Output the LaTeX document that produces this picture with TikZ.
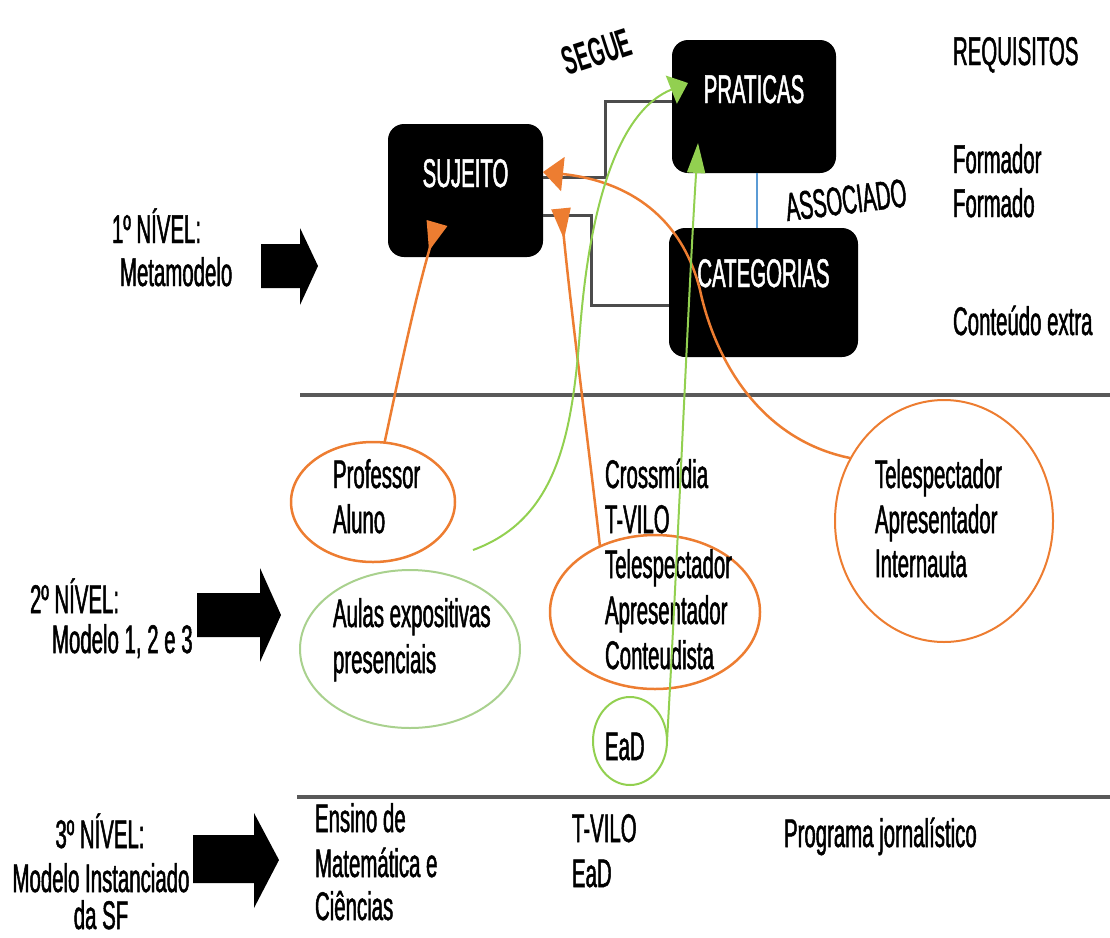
\documentclass[tikz,border=0pt]{standalone}
\usepackage{fontspec}
\setmainfont{Liberation Sans}[FakeStretch=0.51,FakeBold=1.2]
\newfontfamily\seguefont{Liberation Sans Bold}[FakeStretch=0.5]
\usetikzlibrary{arrows.meta,shapes.geometric}
\definecolor{orng}{HTML}{ED7D31}
\definecolor{grn}{HTML}{92D050}
\definecolor{lgrn}{HTML}{A9D18E}
\definecolor{blu}{HTML}{5B9BD5}
\begin{document}
\begin{tikzpicture}[x=1pt,y=-1pt,
  every node/.style={inner sep=0pt,outer sep=0pt,font=\fontsize{40}{45}\selectfont},
  txt/.style={anchor=base west},
  ctxt/.style={anchor=base},
  box/.style={fill=black,rounded corners=16pt,text=white,text height=28pt,text depth=35pt},
  oell/.style={ellipse,draw=orng,line width=2.5pt},
  gell/.style={ellipse,draw=lgrn,line width=2pt},
  gcirc/.style={ellipse,draw=grn,line width=2pt},
  elbow/.style={draw=black!70,line width=3pt},
  assoc/.style={draw=blu,line width=1.5pt},
  sepline/.style={draw=black!65,line width=4pt},
  blockarrow/.style={fill=black},
  oarrow/.style={draw=orng,line width=2.5pt},
  garrow/.style={draw=grn,line width=2pt}
]
\useasboundingbox (0,0) rectangle (1110,937);

% separators
\coordinate (s1a) at (300,395); \coordinate (s1b) at (1110,395);
\coordinate (s2a) at (297,797); \coordinate (s2b) at (1110,797);
\draw[sepline] (s1a) -- (s1b);
\draw[sepline] (s2a) -- (s2b);

% block arrows
\fill[blockarrow] (261,244) -- (300,244) -- (300,228) -- (318,266) -- (300,305) -- (300,288) -- (261,288) -- cycle;
\fill[blockarrow] (197,593) -- (260,593) -- (260,568) -- (281,615) -- (260,662) -- (260,637) -- (197,637) -- cycle;
\fill[blockarrow] (193,835) -- (254,835) -- (254,813) -- (279,860) -- (254,908) -- (254,883) -- (193,883) -- cycle;

% level labels
\node[txt] (n1a) at (112,243) {1º NÍVEL:};
\node[txt] (n1b) at (120,286) {Metamodelo};
\node[txt] (n2a) at (30,613) {2º NÍVEL:};
\node[txt] (n2b) at (52,653) {Modelo 1, 2 e 3};
\node[ctxt] (n3a) at (100,848) {3º NÍVEL:};
\node[ctxt] (n3b) at (101,892) {Modelo Instanciado};
\node[ctxt] (n3c) at (101,929) {da SF};

% boxes
\node[box,minimum width=155pt,minimum height=133pt] (suj) at (465.5,190.5) {SUJEITO};
\node[box,minimum width=164pt,minimum height=133pt] (prat) at (754,106.5) {PRATICAS};
\node[box,minimum width=189pt,minimum height=129pt,text depth=39pt] (cat) at (763.5,292.5) {CATEGORIAS};

% box connectors
\draw[elbow] ([yshift=13.5pt]suj.east) -- ++(62,0) |- ([yshift=5.5pt]prat.west);
\draw[elbow] ([yshift=-24.5pt]suj.east) -- ++(48,0) |- ([yshift=-12.5pt]cat.west);
\draw[assoc] ([xshift=3pt]prat.south) -- ([xshift=3pt]prat.south |- cat.north);

\node[rotate=18,font=\fontsize{40}{45}\seguefont] (segue) at (597,52) {SEGUE};
\node[rotate=7] (assoclbl) at (846,200) {ASSOCIADO};

% requisitos
\node[txt] (req) at (953,65) {REQUISITOS};
\node[txt] (r1) at (953,173) {Formador};
\node[txt] (r2) at (953,217) {Formado};
\node[txt] (r3) at (953,335) {Conteúdo extra};

% level 2
\node[oell,minimum width=164pt,minimum height=120pt] (prof) at (373,502) {};
\node[txt] (t1) at (333,488) {Professor};
\node[txt] (t2) at (333,533) {Aluno};

\node[gell,minimum width=220pt,minimum height=158pt] (aulas) at (410,649) {};
\node[txt] (t3) at (333,627) {Aulas expositivas};
\node[txt] (t4) at (333,673) {presenciais};

\node[oell,minimum width=210pt,minimum height=154pt] (mid) at (655,612) {};
\node[txt] (m1) at (605,488) {Crossmídia};
\node[txt] (m2) at (605,533) {T-VILO};
\node[txt] (m3) at (605,578) {Telespectador};
\node[txt] (m4) at (605,624) {Apresentador};
\node[txt] (m5) at (605,669) {Conteudista};

\node[gcirc,minimum width=74pt,minimum height=88pt] (ead) at (630,741) {};
\node[txt] (m6) at (605,760) {EaD};

\node[oell,minimum width=218pt,minimum height=242pt,line width=2pt] (rt) at (944,521) {};
\node[txt] (q1) at (875,488) {Telespectador};
\node[txt] (q2) at (875,533) {Apresentador};
\node[txt] (q3) at (875,577) {Internauta};

% level 3
\node[txt] (e1) at (315,832) {Ensino de};
\node[txt] (e2) at (315,877) {Matemática e};
\node[txt] (e3) at (315,920) {Ciências};
\node[txt] (v1) at (572,842) {T-VILO};
\node[txt] (v2) at (572,887) {EaD};
\node[txt] (p1) at (784,847) {Programa jornalístico};

% arrow end points
\coordinate (endA) at ([xshift=-28.5pt,yshift=-32.5pt]suj.center);
\coordinate (endB) at ([xshift=18pt,yshift=-18pt]suj.east);
\coordinate (endC) at ([yshift=18.5pt]suj.east);
\coordinate (endD) at ([xshift=16pt,yshift=23.5pt]prat.west);
\coordinate (endE) at ([xshift=-56pt,yshift=30pt]prat.south);
\coordinate (aulasend) at (473,550);

% curved arrows
\draw[oarrow,-{Triangle[reversed,length=29pt,width=21pt]}] (prof.79) .. controls (395,395) and (412,310) .. (endA);
\draw[oarrow,-{Triangle[reversed,length=31pt,width=19pt]}] (mid.130) .. controls (588,440) and (572,320) .. (endB);
\draw[oarrow,-{Triangle[length=20pt,width=34pt]}] (rt.146) .. controls (760,440) and (715,360) .. (700,290) .. controls (680,210) and (620,180) .. (endC);
\draw[garrow,-{Triangle[length=18pt,width=30pt]}] (aulasend) .. controls (555,520) and (572,440) .. (580,330) .. controls (590,200) and (620,110) .. (endD);
\draw[garrow,-{Triangle[length=30pt,width=18pt]}] (ead.east) .. controls (678,550) and (688,300) .. (endE);
\end{tikzpicture}
\end{document}
